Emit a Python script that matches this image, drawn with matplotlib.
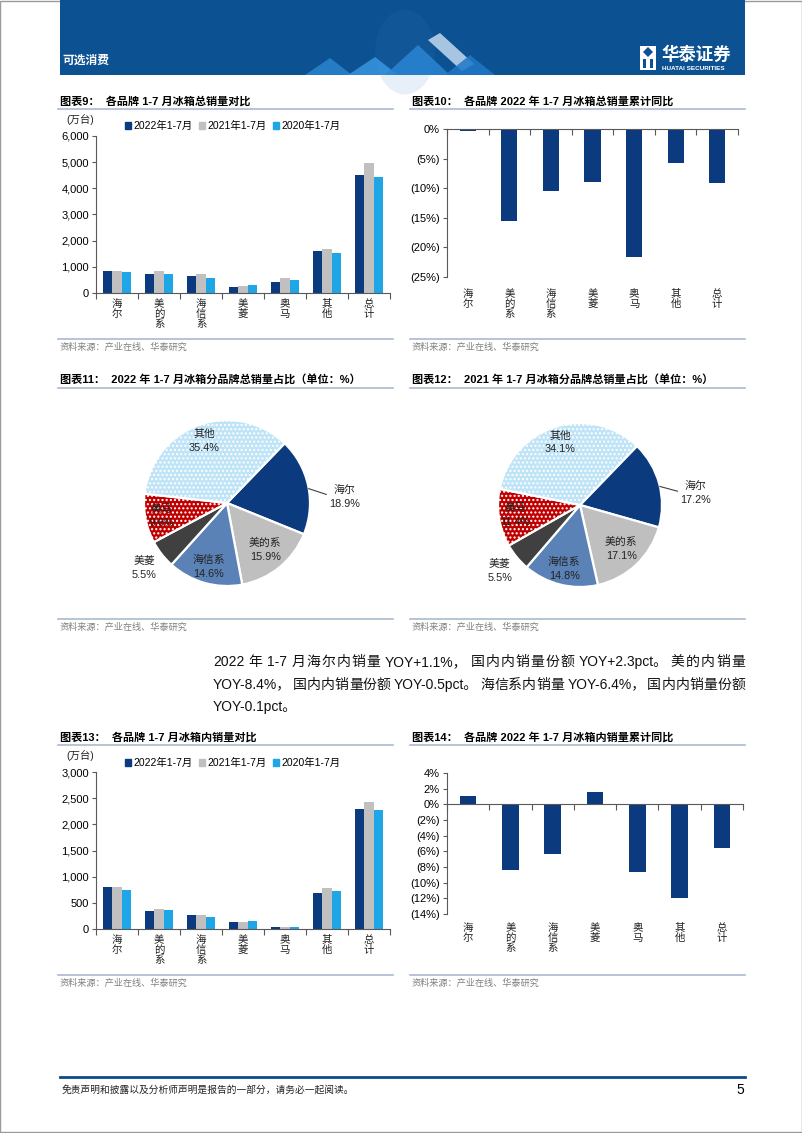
import re
import numpy as np
import matplotlib
matplotlib.use('Agg')
import matplotlib.pyplot as plt
from matplotlib.patches import Rectangle, Polygon, Patch, Circle
from matplotlib.lines import Line2D
from matplotlib.ticker import FuncFormatter

plt.rcParams['font.family'] = ['Liberation Sans', 'Noto Sans CJK SC']
plt.rcParams['axes.unicode_minus'] = False

# data
brands = ['海尔', '美的系', '海信系', '美菱', '奥马', '其他', '总计']
years = ['2022年1-7月', '2021年1-7月', '2020年1-7月']
total_2022 = [853, 717, 659, 248, 433, 1597, 4511]
total_2021 = [857, 852, 737, 274, 568, 1699, 4981]
total_2020 = [790, 724, 560, 292, 483, 1525, 4422]
total_yoy = [-0.3, -15.5, -10.5, -8.9, -21.7, -5.7, -9.2]

pie_brands = ['海尔', '美的系', '海信系', '美菱', '奥马', '其他']
share_2022 = [18.9, 15.9, 14.6, 5.5, 9.6, 35.4]
share_2021 = [17.2, 17.1, 14.8, 5.5, 11.4, 34.1]

dom_2022 = [803, 344, 261, 134, 38, 688, 2293]
dom_2021 = [796, 376, 274, 134, 32, 777, 2433]
dom_2020 = [752, 357, 236, 146, 32, 726, 2280]
dom_yoy = [1.1, -8.4, -6.4, 1.6, -8.6, -12.0, -5.6]

bar_colors = ['#0b3a7e', '#c0c0c0', '#1ea6e6']
pie_colors = ['#0b3a7e', '#bfbfbf', '#5b82b6', '#404040', '#c00000', '#bfe4f7']
pie_hatch = ['', '', '', '', '....', '....']
label_r = [1.42, 0.73, 0.8, 1.27, 0.8, 0.8]
navy = '#0b3a7e'
rule = '#a9bad0'
axis_c = '#595959'

W, H = 802, 1133
fig = plt.figure(figsize=(W / 100, H / 100), dpi=100)


def rect(l, t, r, b):
    return [l / W, 1 - b / H, (r - l) / W, (b - t) / H]


def ftext(x, y, s, **kw):
    return fig.text(x / W, 1 - y / H, s, **kw)


def hline(x0, x1, y, **kw):
    fig.add_artist(Line2D([x0 / W, x1 / W], [1 - y / H, 1 - y / H], **kw))


def poly(pts, **kw):
    fig.add_artist(Polygon([(x / W, 1 - y / H) for x, y in pts],
                           transform=fig.transFigure, **kw))


# page frame
fig.add_artist(Rectangle((0.0005, 0.0005), 0.999, 0.999, transform=fig.transFigure,
                         fill=False, edgecolor='#9a9a9a', lw=1))

# header band
fig.add_artist(Rectangle((60 / W, 1 - 75 / H), 685 / W, 75 / H,
                         transform=fig.transFigure, color='#0c5192', lw=0))
fig.add_artist(Circle((405 / W, 1 - 52 / H), 30 / W, transform=fig.transFigure,
                      color='#3a86c8', alpha=0.12, lw=0))
poly([(305, 75), (330, 58), (352, 75)], color='#2f8fdc', alpha=0.7, lw=0)
poly([(348, 75), (375, 57), (398, 75)], color='#3b9ae6', alpha=0.8, lw=0)
poly([(385, 75), (418, 45), (450, 75)], color='#2a84d2', alpha=0.85, lw=0)
poly([(428, 40), (440, 33), (474, 64), (462, 71)], color='#cfe3f6', alpha=0.8, lw=0)
poly([(445, 75), (470, 55), (495, 75)], color='#1f78c8', alpha=0.85, lw=0)
ftext(62, 61, '可选消费', color='white', fontsize=8.5, fontweight='bold', va='center')
fig.add_artist(Rectangle((640 / W, 1 - 70 / H), 16 / W, 24 / H,
                         transform=fig.transFigure, color='white', lw=0))
poly([(643, 52), (648, 47), (653, 52), (648, 57)], color='#0c5192', lw=0)
fig.add_artist(Rectangle((643 / W, 1 - 68 / H), 3 / W, 9 / H,
                         transform=fig.transFigure, color='#0c5192', lw=0))
fig.add_artist(Rectangle((650 / W, 1 - 68 / H), 3 / W, 9 / H,
                         transform=fig.transFigure, color='#0c5192', lw=0))
ftext(661, 54, '华泰证券', color='white', fontsize=12.5, fontweight='bold', va='center')
ftext(662, 68, 'HUATAI SECURITIES', color='white', fontsize=4.6, fontweight='bold', va='center')

# footer
hline(60, 745, 1077, color='#0c4a8c', lw=2)
ftext(62, 1090, '免责声明和披露以及分析师声明是报告的一部分，请务必一起阅读。',
      fontsize=7, style='italic', va='center', color='#222222')
ftext(744, 1090, '5', fontsize=10, ha='right', va='center')


def block_frame(x0, x1, title_y, source_y, title):
    ftext(x0 + 2, title_y, title, fontsize=8, fontweight='bold', va='center')
    hline(x0, x1, title_y + 7.5, color=rule, lw=1.2)
    hline(x0, x1, source_y - 8, color=rule, lw=1.2)
    ftext(x0 + 2, source_y, '资料来源：产业在线、华泰研究', fontsize=6.6,
          color='#808080', va='center')


def style_axes(ax):
    for s in ['top', 'right']:
        ax.spines[s].set_visible(False)
    for s in ['left', 'bottom']:
        ax.spines[s].set_color(axis_c)
        ax.spines[s].set_linewidth(0.8)
    ax.set_xlim(-0.5, len(brands) - 0.5)
    ax.set_xticks(np.arange(-0.5, len(brands), 1))
    ax.set_xticklabels([])
    ax.tick_params(axis='x', length=4, direction='out', color=axis_c, width=0.8)
    ax.tick_params(axis='y', length=3, direction='out', color=axis_c, width=0.8,
                   labelsize=8, pad=2)
    ax.patch.set_alpha(0)


def brand_labels(ax, gap):
    y0 = ax.get_ylim()[0]
    for i, b in enumerate(brands):
        ax.annotate('\n'.join(b), xy=(i, y0), xytext=(0, -gap), textcoords='offset pixels',
                    ha='center', va='top', fontsize=7.5, linespacing=1.0, color='#222222')


def grouped_bars(box, series, ymax, step, legend_y, unit_y):
    ax = fig.add_axes(rect(*box))
    x = np.arange(len(brands))
    w = 0.215
    for i, (vals, col) in enumerate(zip(series, bar_colors)):
        ax.bar(x + (i - 1) * w, vals, w, color=col, lw=0)
    ax.set_ylim(0, ymax)
    ax.set_yticks(np.arange(0, ymax + 1, step))
    ax.yaxis.set_major_formatter(FuncFormatter(lambda v, p: f'{v:,.0f}'))
    style_axes(ax)
    brand_labels(ax, 6)
    handles = [Patch(color=c) for c in bar_colors]
    ax.legend(handles, years, loc='center left', bbox_to_anchor=(125 / W, 1 - legend_y / H),
              bbox_transform=fig.transFigure, ncol=3, frameon=False, fontsize=7.5,
              handlelength=0.6, handleheight=0.6, handletextpad=0.25, columnspacing=0.55,
              borderaxespad=0, borderpad=0)
    ftext(80, unit_y, '(万台)', fontsize=7.5, ha='center', va='center', color='#222222')
    return ax


def pct_label(v, p):
    return f'({abs(v):.0f}%)' if v < 0 else f'{v:.0f}%'


def yoy_bars(box, vals, ylo, yhi, step, gap):
    ax = fig.add_axes(rect(*box))
    ax.bar(np.arange(len(brands)), vals, 0.39, color=navy, lw=0)
    ax.set_ylim(ylo, yhi)
    ax.set_yticks(np.arange(ylo, yhi + 0.1, step))
    ax.yaxis.set_major_formatter(FuncFormatter(pct_label))
    style_axes(ax)
    ax.spines['bottom'].set_position(('data', 0))
    brand_labels(ax, gap)
    return ax


def share_pie(cx, cy, r, shares):
    half = 1.5 * r
    ax = fig.add_axes(rect(cx - half, cy - half, cx + half, cy + half))
    wedges, _ = ax.pie(shares, colors=pie_colors, startangle=46, counterclock=False,
                       radius=1, wedgeprops=dict(edgecolor='white', linewidth=1.6))
    ax.set_xlim(-1.5, 1.5)
    ax.set_ylim(-1.5, 1.5)
    ax.axis('off')
    for wdg, h in zip(wedges, pie_hatch):
        if h:
            wdg.set_hatch(h)
    for i, (wdg, name, s) in enumerate(zip(wedges, pie_brands, shares)):
        mid = np.deg2rad((wdg.theta1 + wdg.theta2) / 2)
        lbl = f'{name}\n{s:.1f}%'
        if i == 0:
            a0, a1, a2 = mid - np.deg2rad(2), mid - np.deg2rad(7), mid - np.deg2rad(9)
            ax.plot([np.cos(a0), 1.2 * np.cos(a1)], [np.sin(a0), 1.2 * np.sin(a1)],
                    color='#404040', lw=0.8)
            ax.text(label_r[i] * np.cos(a2), label_r[i] * np.sin(a2), lbl, ha='center',
                    va='center', fontsize=7.8, linespacing=1.5, color='#222222')
        else:
            ax.text(label_r[i] * np.cos(mid), label_r[i] * np.sin(mid), lbl, ha='center',
                    va='center', fontsize=7.8, linespacing=1.5, color='#222222')
    return ax


# chart 9 / 10
block_frame(58, 393, 101, 347, '图表9：  各品牌 1-7 月冰箱总销量对比')
block_frame(410, 745, 101, 347, '图表10：  各品牌 2022 年 1-7 月冰箱总销量累计同比')
grouped_bars((96, 136, 390, 293), [total_2022, total_2021, total_2020], 6000, 1000, 126, 119)
yoy_bars((447, 129, 738, 277), total_yoy, -25, 0, 5, 12)

# chart 11 / 12
block_frame(58, 393, 380, 627, '图表11：  2022 年 1-7 月冰箱分品牌总销量占比（单位：%）')
block_frame(410, 745, 380, 627, '图表12：  2021 年 1-7 月冰箱分品牌总销量占比（单位：%）')
share_pie(227, 503, 83, share_2022)
share_pie(580, 505, 82, share_2021)

# paragraph, justified to the column
renderer = fig.canvas.get_renderer()
em = 10 * 100 / 72


def justify_line(s, x0, x1, y, size, justify=True):
    tokens = re.findall(r'[\x21-\x7e]+[，。]?|[^\x00-\x7f][，。]?', s)
    texts = [ftext(x0, y, t, fontsize=size, va='center', ha='left', color='#111111')
             for t in tokens]
    widths = [t.get_window_extent(renderer).width for t in texts]
    gaps = []
    for a, b in zip(tokens, tokens[1:]):
        g = 0.3
        if a[-1] in '，。':
            g = 0.15 * em
        elif a[-1].isascii() != b[0].isascii():
            g = 0.25 * em
        gaps.append(g)
    if justify and gaps:
        extra = (x1 - x0) - sum(widths) - sum(gaps)
        gaps = [g + extra / len(gaps) for g in gaps]
    x = x0
    for t, w, g in zip(texts, widths, gaps + [0]):
        t.set_x(x / W)
        x += w + g


body = ['2022 年 1-7 月海尔内销量 YOY+1.1%，国内内销量份额 YOY+2.3pct。美的内销量',
        'YOY-8.4%，国内内销量份额 YOY-0.5pct。海信系内销量 YOY-6.4%，国内内销量份额',
        'YOY-0.1pct。']
for k, line in enumerate(body):
    justify_line(line, 213, 745, 662 + 22.5 * k, 10, justify=k < 2)

# chart 13 / 14
block_frame(58, 393, 737, 983, '图表13：  各品牌 1-7 月冰箱内销量对比')
block_frame(410, 745, 737, 983, '图表14：  各品牌 2022 年 1-7 月冰箱内销量累计同比')
grouped_bars((96, 772, 390, 929), [dom_2022, dom_2021, dom_2020], 3000, 500, 763, 755)
yoy_bars((447, 773, 743, 914), dom_yoy, -14, 4, 2, 9)

fig.savefig('out.png', dpi=100)
